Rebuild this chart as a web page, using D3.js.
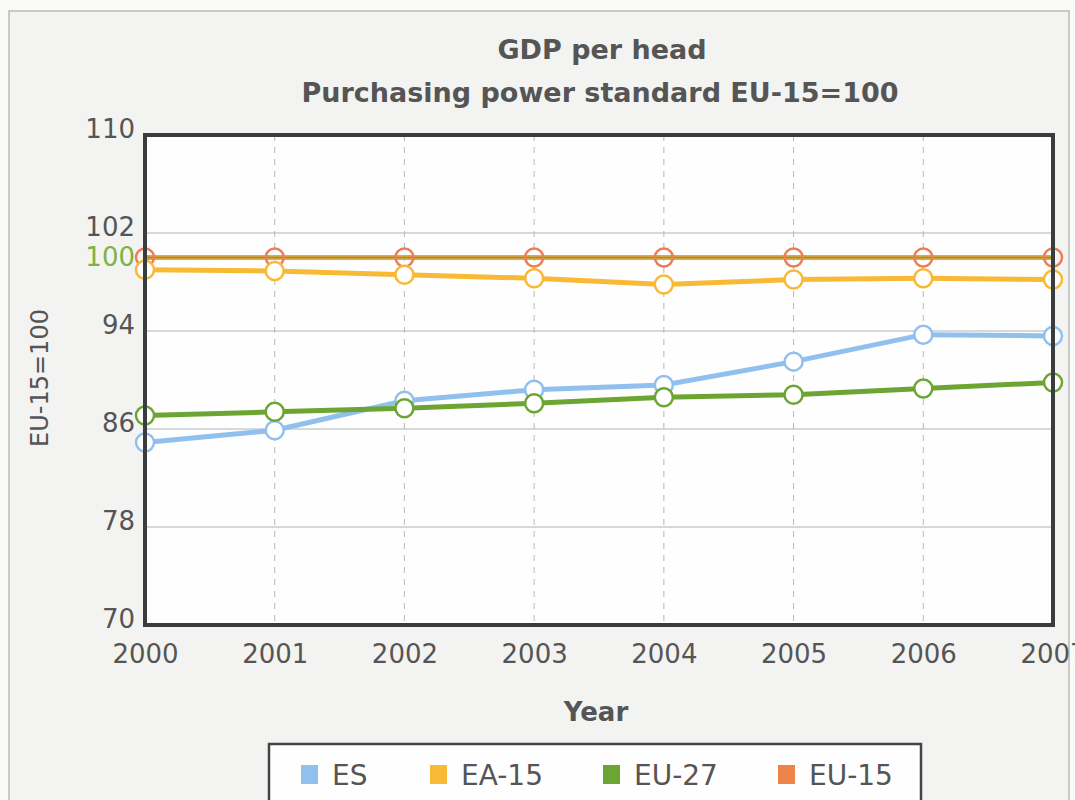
<!DOCTYPE html>
<html>
<head>
<meta charset="utf-8">
<script src="https://cdn.jsdelivr.net/npm/d3@7"></script>
<style>
  body { margin: 0; background: #fafaf8; }
  text { font-family: "DejaVu Sans", Verdana, sans-serif; fill: #555; }
</style>
</head>
<body>
<script>
// data
var years = [2000, 2001, 2002, 2003, 2004, 2005, 2006, 2007];
var esValues   = [84.9, 85.9, 88.3, 89.2, 89.6, 91.5, 93.7, 93.6];
var ea15Values = [99.0, 98.9, 98.6, 98.3, 97.8, 98.2, 98.3, 98.2];
var eu27Values = [87.1, 87.4, 87.7, 88.1, 88.6, 88.8, 89.3, 89.8];
var eu15Values = [100, 100, 100, 100, 100, 100, 100, 100];
var yTicks = [70, 78, 86, 94, 102, 110];
var seriesNames = ["ES", "EA-15", "EU-27", "EU-15"];

var width = 1075, height = 800;
var margin = {top: 135, right: 22, bottom: 175, left: 145};
var w = width - margin.left - margin.right;
var h = height - margin.top - margin.bottom;

var series = [
  {name: "ES",    values: esValues,   line: "#90c0ee", dot: "#90c0ee"},
  {name: "EA-15", values: ea15Values, line: "#f8b935", dot: "#f8b935"},
  {name: "EU-27", values: eu27Values, line: "#6ca532", dot: "#6ca532"},
  {name: "EU-15", values: eu15Values, line: "#f2a044", dot: "#ec7d55"}
];
var legendColors = ["#90c0ee", "#f8b935", "#6ca532", "#ee8448"];

var svg = d3.select("body").append("svg")
    .attr("width", width)
    .attr("height", height);

// card behind the chart
svg.append("rect")
    .attr("x", 9).attr("y", 11)
    .attr("width", 1060).attr("height", 800)
    .attr("fill", "#f3f3f1")
    .attr("stroke", "#bbb")
    .attr("stroke-width", 1.5);

// titles
svg.append("text")
    .attr("x", 602).attr("y", 59)
    .attr("text-anchor", "middle")
    .style("font-size", "27px").style("font-weight", "bold")
    .text("GDP per head");
svg.append("text")
    .attr("x", 600).attr("y", 102)
    .attr("text-anchor", "middle")
    .style("font-size", "27px").style("font-weight", "bold")
    .text("Purchasing power standard EU-15=100");

var g = svg.append("g")
    .attr("transform", "translate(" + margin.left + "," + margin.top + ")");

var xScale = d3.scaleLinear().domain([2000, 2007]).range([0, w]);
var yScale = d3.scaleLinear().domain([70, 110]).range([h, 0]);

g.append("rect")
    .attr("width", w).attr("height", h)
    .attr("fill", "#fefefe");

// horizontal grid
g.selectAll(".hgrid")
    .data(yTicks.slice(1, -1))
  .enter().append("line")
    .attr("class", "hgrid")
    .attr("x1", 0).attr("x2", w)
    .attr("y1", function(d) { return yScale(d); })
    .attr("y2", function(d) { return yScale(d); })
    .attr("stroke", "#c8cccc")
    .attr("stroke-width", 1.5);

// vertical dashed grid
g.selectAll(".vgrid")
    .data(years.slice(1, -1))
  .enter().append("line")
    .attr("class", "vgrid")
    .attr("y1", 0).attr("y2", h)
    .attr("x1", function(d) { return xScale(d); })
    .attr("x2", function(d) { return xScale(d); })
    .attr("stroke", "#b8b8b8")
    .attr("stroke-width", 1)
    .attr("stroke-dasharray", "6,6");

// axes (labels only, border drawn separately)
var yAxis = d3.axisLeft(yScale).tickValues(yTicks).tickSize(0).tickPadding(10);
var xAxis = d3.axisBottom(xScale).tickValues(years).tickFormat(d3.format("d")).tickSize(0).tickPadding(20);

g.append("g").call(yAxis)
    .call(function(a) { a.select(".domain").remove(); })
    .selectAll("text")
    .style("font-size", "26px").style("fill", "#555")
    .attr("dy", "0.1em");

g.append("g")
    .attr("transform", "translate(0," + h + ")")
    .call(xAxis)
    .call(function(a) { a.select(".domain").remove(); })
    .selectAll("text")
    .style("font-size", "26px").style("fill", "#555");

// green 100 label
g.append("text")
    .attr("x", -10).attr("y", yScale(100))
    .attr("dy", "0.32em")
    .attr("text-anchor", "end")
    .style("font-size", "26px").style("fill", "#7cb342")
    .text("100");

var line = d3.line()
    .x(function(d, i) { return xScale(years[i]); })
    .y(function(d) { return yScale(d); });

// draw EU-15 first so other series sit on top, then the rest
var drawOrder = [series[3], series[1], series[0], series[2]];
drawOrder.forEach(function(s) {
  g.append("path")
      .datum(s.values)
      .attr("d", line)
      .attr("fill", "none")
      .attr("stroke", s.line)
      .attr("stroke-width", 5);
});

// thin green reference line at 100
g.append("line")
    .attr("x1", 0).attr("x2", w)
    .attr("y1", yScale(100)).attr("y2", yScale(100))
    .attr("stroke", "#6ca532")
    .attr("stroke-width", 1.5);

drawOrder.forEach(function(s) {
  g.selectAll(".dot-" + s.name)
      .data(s.values)
    .enter().append("circle")
      .attr("cx", function(d, i) { return xScale(years[i]); })
      .attr("cy", function(d) { return yScale(d); })
      .attr("r", 9)
      .attr("fill", s.name == "EU-15" ? "none" : "#fff")
      .attr("stroke", s.dot)
      .attr("stroke-width", 2.5);
});

// plot border
g.append("rect")
    .attr("width", w).attr("height", h)
    .attr("fill", "none")
    .attr("stroke", "#3a3d3d")
    .attr("stroke-width", 4);

// axis titles
svg.append("text")
    .attr("transform", "translate(48," + (margin.top + h / 2 - 2) + ") rotate(-90)")
    .attr("text-anchor", "middle")
    .style("font-size", "24px")
    .text("EU-15=100");

svg.append("text")
    .attr("x", 596).attr("y", 721)
    .attr("text-anchor", "middle")
    .style("font-size", "26px").style("font-weight", "bold")
    .text("Year");

// legend
var legend = svg.append("g");
legend.append("rect")
    .attr("x", 269).attr("y", 744)
    .attr("width", 652).attr("height", 70)
    .attr("fill", "#fefefe")
    .attr("stroke", "#444")
    .attr("stroke-width", 2.5);

var legendX = [301, 430, 603, 778];
var item = legend.selectAll(".legend")
    .data(seriesNames)
  .enter().append("g")
    .attr("class", "legend")
    .attr("transform", function(d, i) { return "translate(" + legendX[i] + ",765)"; });

item.append("rect")
    .attr("width", 17).attr("height", 19)
    .attr("fill", function(d, i) { return legendColors[i]; });

item.append("text")
    .attr("x", 31).attr("y", 20)
    .style("font-size", "28px")
    .text(function(d) { return d; });
</script>
</body>
</html>
